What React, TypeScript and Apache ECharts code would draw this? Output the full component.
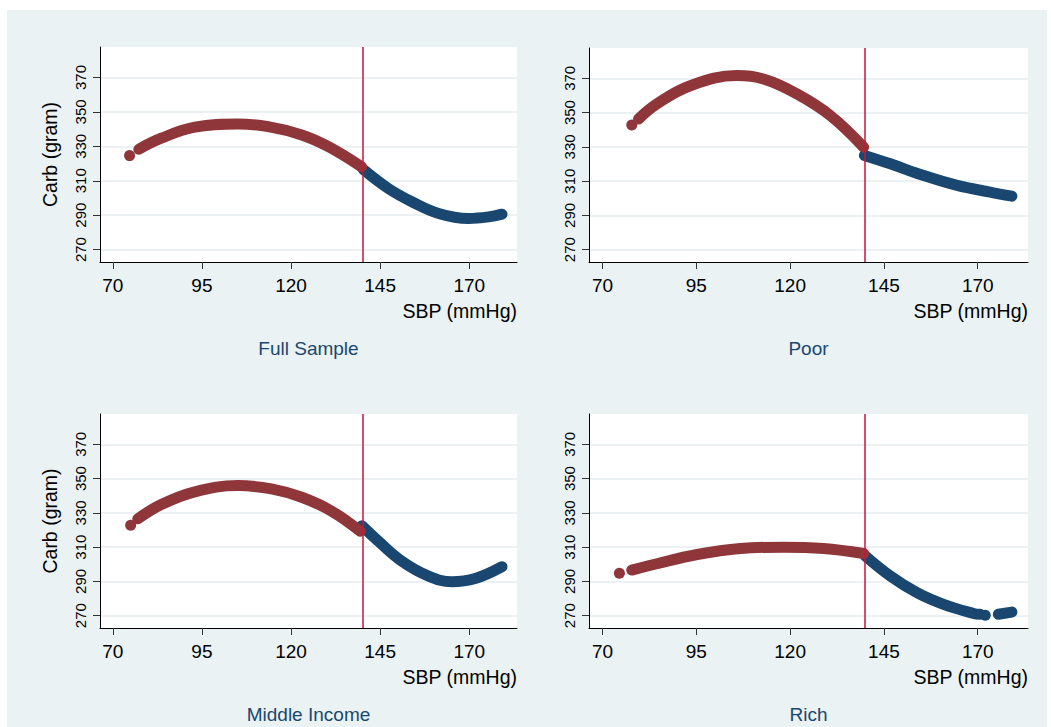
import React, { useEffect, useRef } from "react";
import * as echarts from "echarts";

const xTicks = [70, 95, 120, 145, 170];
const yTicks = [270, 290, 310, 330, 350, 370];
const threshold = 140;
const panelTitles = ["Full Sample", "Poor", "Middle Income", "Rich"];
const xName = "SBP (mmHg)";
const yName = "Carb (gram)";

// Full Sample
const fullRedDot = [[74.7, 324.6]];
const fullRed = [[77.3, 328.3], [83.6, 334.7], [93.0, 341.1], [105.1, 343.0], [113.6, 341.4], [123.0, 336.6], [130.5, 329.8], [139.8, 318.1]];
const fullBlue = [[140.3, 316.5], [147.3, 305.5], [153.9, 297.8], [161.4, 291.0], [169.8, 288.1], [175.4, 289.0], [179.2, 290.6]];

// Poor
const poorRedDot = [[77.8, 342.8]];
const poorRed = [[79.6, 346.3], [84.5, 355.1], [93.4, 365.7], [105.8, 371.6], [112.9, 369.6], [121.8, 360.9], [130.7, 348.3], [139.6, 329.8]];
const poorBlue = [[139.8, 325.0], [146.7, 320.1], [155.6, 313.3], [164.5, 307.5], [173.3, 303.6], [179.1, 301.2]];

// Middle Income
const midRedDot = [[75.0, 322.8]];
const midRed = [[77.0, 326.5], [83.6, 334.9], [93.0, 342.3], [105.1, 345.9], [114.5, 344.0], [123.0, 339.1], [131.4, 331.0], [139.4, 319.3]];
const midBlue = [[139.9, 322.5], [144.5, 313.5], [151.1, 301.8], [158.6, 293.1], [165.1, 289.8], [171.7, 291.7], [179.2, 298.6]];

// Rich
const richRedDot = [[74.5, 294.7]];
const richRed = [[77.8, 296.6], [84.5, 300.3], [95.2, 305.7], [106.7, 309.2], [118.2, 310.0], [128.9, 309.2], [139.6, 306.3]];
const richBlue = [[140.1, 304.7], [146.7, 293.1], [153.8, 283.4], [160.9, 276.6], [168.9, 271.3], [170.6, 270.8]];
const richBlueDot = [[172.0, 270.3]];
const richBlue2 = [[175.5, 270.8], [179.1, 272.1]];

const RED = "#8f363b";
const BLUE = "#1a476f";
const VLINE = "#c8143c";
const FONT = "Liberation Sans";
const NARROW = "'Liberation Sans Narrow', 'Liberation Sans'";

const grids = [
  { left: 100, top: 47, width: 417, height: 215 },
  { left: 589, top: 48, width: 439, height: 214 },
  { left: 100, top: 414, width: 417, height: 214 },
  { left: 589, top: 414, width: 439, height: 214 },
];

const panels = [
  { redDot: fullRedDot, red: [fullRed], blue: [fullBlue], blueDot: [] as number[][] },
  { redDot: poorRedDot, red: [poorRed], blue: [poorBlue], blueDot: [] as number[][] },
  { redDot: midRedDot, red: [midRed], blue: [midBlue], blueDot: [] as number[][] },
  { redDot: richRedDot, red: [richRed], blue: [richBlue, richBlue2], blueDot: richBlueDot },
];

export default function App() {
  const ref = useRef<HTMLDivElement>(null);
  useEffect(() => {
    if (!ref.current) return;
    const chart = echarts.init(ref.current, undefined, { renderer: "svg" });
    const xAxis: any[] = [];
    const yAxis: any[] = [];
    const series: any[] = [];
    const graphic: any[] = [];
    grids.forEach((g, i) => {
      xAxis.push({
        type: "value",
        gridIndex: i,
        min: 66.4,
        max: 183.4,
        axisLine: { show: true, onZero: false, lineStyle: { color: "#000", width: 1 } },
        axisTick: { show: true, length: 7, customValues: xTicks, lineStyle: { color: "#333" } },
        axisLabel: { customValues: xTicks, fontSize: 19, color: "#000", fontFamily: FONT, margin: 14 },
        splitLine: { show: false },
      });
      yAxis.push({
        type: "value",
        gridIndex: i,
        min: 262.8,
        max: 387.7,
        axisLine: { show: true, onZero: false, lineStyle: { color: "#000", width: 1 } },
        axisTick: { show: true, length: 7, customValues: yTicks, lineStyle: { color: "#333" } },
        axisLabel: { customValues: yTicks, rotate: 90, fontSize: 15, color: "#000", fontFamily: NARROW, margin: 12 },
        splitLine: { show: true, lineStyle: { color: "#e6eef0", width: 1.5 } },
      });
      const p = panels[i];
      p.blue.forEach((seg) => {
        series.push({
          type: "line", xAxisIndex: i, yAxisIndex: i, data: seg, smooth: 0.4, symbol: "none",
          lineStyle: { color: BLUE, width: 11, cap: "round", join: "round" }, z: 2, silent: true,
        });
      });
      if (p.blueDot.length) {
        series.push({
          type: "scatter", xAxisIndex: i, yAxisIndex: i, data: p.blueDot, symbolSize: 11,
          itemStyle: { color: BLUE, opacity: 1 }, z: 2, silent: true,
        });
      }
      p.red.forEach((seg) => {
        series.push({
          type: "line", xAxisIndex: i, yAxisIndex: i, data: seg, smooth: 0.4, symbol: "none",
          lineStyle: { color: RED, width: 11, cap: "round", join: "round" }, z: 3, silent: true,
        });
      });
      series.push({
        type: "scatter", xAxisIndex: i, yAxisIndex: i, data: p.redDot, symbolSize: 11,
        itemStyle: { color: RED, opacity: 1 }, z: 3, silent: true,
        markLine: {
          silent: true, symbol: ["none", "none"], label: { show: false },
          lineStyle: { color: VLINE, width: 1.5, type: "solid" },
          data: [{ xAxis: threshold }],
        },
      });
      const right = g.left + g.width;
      const bottom = g.top + g.height;
      const cx = g.left + g.width / 2;
      graphic.push({
        type: "text", x: right, y: bottom + 49,
        style: { text: xName, fontSize: 19.5, fontFamily: FONT, fill: "#000", align: "right", verticalAlign: "middle" },
      });
      graphic.push({
        type: "text", x: cx, y: bottom + 86,
        style: { text: panelTitles[i], fontSize: 19, fontFamily: FONT, fill: BLUE, align: "center", verticalAlign: "middle" },
      });
      if (i % 2 === 0) {
        graphic.push({
          type: "text", x: 50, y: g.top + g.height / 2, rotation: Math.PI / 2,
          style: { text: yName, fontSize: 19.5, fontFamily: FONT, fill: "#000", align: "center", verticalAlign: "middle" },
        });
      }
    });
    chart.setOption({
      animation: false,
      grid: grids.map((g) => ({ ...g, show: true, backgroundColor: "#ffffff", borderWidth: 0, containLabel: false })),
      xAxis,
      yAxis,
      series,
      graphic,
    });
    return () => chart.dispose();
  }, []);
  return (
    <div style={{ position: "absolute", left: 0, top: 0, width: 1051, height: 727, background: "#ffffff", overflow: "hidden" }}>
      <div style={{ position: "absolute", left: 7, top: 10, width: 1040, height: 717, background: "#eaf2f3" }} />
      <div ref={ref} style={{ position: "absolute", left: 0, top: 0, width: 1051, height: 727 }} />
    </div>
  );
}
